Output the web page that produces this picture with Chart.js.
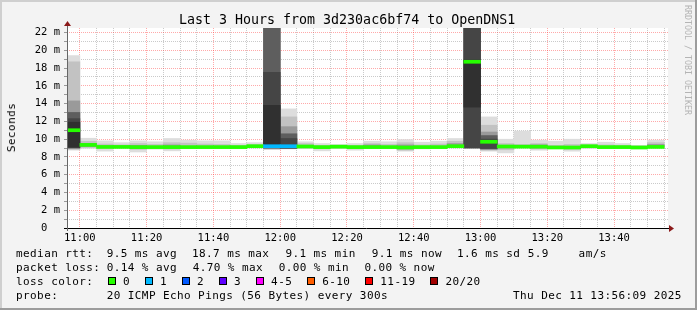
<!DOCTYPE html>
<html>
<head>
<meta charset="utf-8">
<script src="https://cdn.jsdelivr.net/npm/chart.js@4.4.1/dist/chart.umd.min.js"></script>
<style>
html, body { margin: 0; padding: 0; background: #f3f3f3; }
#wrap { position: relative; width: 697px; height: 310px; overflow: hidden;
        font-family: 'DejaVu Sans Mono', monospace; color: #000; }
canvas { position: absolute; left: 0; top: 0; }
.t { position: absolute; white-space: pre; line-height: 1; }
.lg { font-size: 11px; letter-spacing: 0.41px; }
.box { position: absolute; width: 8px; height: 8px; box-sizing: border-box; border: 1px solid #000; }
</style>
</head>
<body>
<div id="wrap">
  <canvas id="chart" width="697" height="310"></canvas>
  <div id="texts"></div>
</div>
<script>
// 5-minute slots, labelled by slot start
const slots = ['10:55','11:00','11:05','11:10','11:15','11:20','11:25','11:30','11:35','11:40','11:45','11:50',
               '11:55','12:00','12:05','12:10','12:15','12:20','12:25','12:30','12:35','12:40','12:45','12:50',
               '12:55','13:00','13:05','13:10','13:15','13:20','13:25','13:30','13:35','13:40','13:45','13:50'];

// median rtt (ms) per slot
const medianMs = [11.0, 9.35, 9.12, 9.12, 9.1, 9.1, 9.1, 9.1, 9.1, 9.1, 9.1, 9.2,
                  9.2, 9.2, 9.17, 9.1, 9.15, 9.1, 9.1, 9.1, 9.06, 9.1, 9.1, 9.2,
                  18.7, 9.7, 9.17, 9.15, 9.15, 9.06, 9.06, 9.2, 9.1, 9.1, 9.06, 9.12];

// lost pings per slot (of 20)
const lostPings = [0,0,0,0,0,0,0,0,0,0,0,0, 1,1,0,0,0,0,0,0,0,0,0,0, 0,0,0,0,0,0,0,0,0,0,0,0];

// smoke bands, outer (light) to inner (dark), [low, high] ms
const smoke1 = [[8.75,19.4],[8.95,10.1],[8.65,9.8],[9.0,9.6],[8.55,9.8],[8.87,9.7],[8.68,10.07],[8.94,9.88],[9.0,9.8],[9.02,9.8],[9.02,9.5],[9.0,9.6],
                [8.8,40],[8.9,13.4],[8.94,9.7],[8.68,9.5],[8.94,9.4],[8.75,9.5],[9.0,9.76],[9.0,9.7],[8.64,9.95],[8.9,9.65],[9.0,9.76],[9.0,10.07],
                [9.0,40],[8.64,12.5],[8.45,9.99],[9.0,10.9],[8.75,9.88],[8.95,9.76],[8.64,9.99],[8.95,9.5],[9.0,9.65],[9.0,9.5],[8.9,9.3],[9.0,9.88]];
const smoke2 = [[8.85,18.7],[9.05,9.75],[8.95,9.45],[9.05,9.35],[8.85,9.5],[9.0,9.4],[8.9,9.6],[9.0,9.55],[9.05,9.45],[9.05,9.4],[9.05,9.3],[9.05,9.4],
                [8.9,40],[8.95,12.5],[9.0,9.5],[8.95,9.3],[9.0,9.3],[8.95,9.3],[9.05,9.5],[9.05,9.4],[8.75,9.6],[9.0,9.35],[9.05,9.45],[9.05,9.75],
                [9.0,40],[8.75,11.56],[8.8,9.5],[9.05,9.4],[8.9,9.5],[9.0,9.3],[8.85,9.4],[9.05,9.35],[9.05,9.35],[9.05,9.3],[8.95,9.15],[9.05,9.6]];
const smoke3 = [[8.95,14.3],[9.15,9.5],null,null,[8.95,9.3],null,[9.0,9.35],null,null,null,null,null,
                [8.95,40],[9.0,11.4],[9.05,9.3],null,null,null,[9.05,9.35],null,[8.9,9.35],null,null,[9.1,9.5],
                [9.0,40],[8.85,10.8],[9.0,9.3],null,[9.0,9.35],null,null,null,null,null,null,[9.1,9.4]];
const smoke4 = [[9.0,13.0],null,null,null,null,null,null,null,null,null,null,null,
                [9.0,40],[9.05,10.6],null,null,null,null,null,null,null,null,null,null,
                [9.0,40],[8.9,10.4],null,null,null,null,null,null,null,null,null,null];
const smoke5 = [[9.05,12.3],null,null,null,null,null,null,null,null,null,null,null,
                [9.0,17.5],[8.95,10.07],null,null,null,null,null,null,null,null,null,null,
                [9.0,40],[8.95,10.0],null,null,null,null,null,null,null,null,null,null];
const smoke6 = [[9.1,11.9],null,null,null,null,null,null,null,null,null,null,null,
                [9.05,13.8],null,null,null,null,null,null,null,null,null,null,null,
                [13.6,18.9],null,null,null,null,null,null,null,null,null,null,null];
const smokeGreys = ['#dddddd','#c2c2c2','#9a9a9a','#5e5e5e','#454545','#303030'];

const lossLabels = ['0','1','2','3','4-5','6-10','11-19','20/20'];
const lossColors = ['#26ff00','#00b8ff','#0059ff','#5e00ff','#ff00ff','#ff5e00','#ff0000','#a10000'];
const lossLimits = [0, 1, 2, 3, 5, 10, 19, 20];

const xTicks = [0,5,10,15,20,25,30,35,40,45,50,55,60,65,70,75,80,85,90,95,100,105,110,115,
                120,125,130,135,140,145,150,155,160,165,170,175];
const yTicks = [0,1,2,3,4,5,6,7,8,9,10,11,12,13,14,15,16,17,18,19,20,21,22];

// minutes relative to 11:00
const toMin = s => { const [h, m] = s.split(':').map(Number); return (h - 11) * 60 + m; };
const fmtMin = v => { const t = 660 + v; return Math.floor(t / 60) + ':' + String(t % 60).padStart(2, '0'); };
const mids = slots.map(s => toMin(s) + 2.5);

function bandData(arr) {
    const out = [];
    arr.forEach((r, i) => { if (r) out.push({ x: mids[i], y: r }); });
    return out;
}
const lossColor = n => lossColors[lossLimits.findIndex(l => n <= l)];

const datasets = [{
    data: medianMs.map((m, i) => ({ x: mids[i], y: [m - 0.17, m + 0.17] })),
    backgroundColor: lostPings.map(lossColor),
}];
[smoke6, smoke5, smoke4, smoke3, smoke2, smoke1].forEach((b, k) => {
    datasets.push({ data: bandData(b), backgroundColor: smokeGreys[5 - k] });
});
datasets.forEach(d => Object.assign(d, {
    grouped: false, barPercentage: 1, categoryPercentage: 1, borderWidth: 0, borderSkipped: false,
}));

const MONO = 'DejaVu Sans Mono';
const RED = 'rgba(255,40,40,0.4)', GREY = 'rgba(150,150,150,0.5)';
const tickVal = c => (c.tick ? c.tick.value : 1);

const frame = {
    id: 'frame',
    beforeDraw(chart) {
        const { ctx, chartArea: a } = chart;
        ctx.save();
        ctx.fillStyle = '#f3f3f3';
        ctx.fillRect(0, 0, 697, 310);
        ctx.fillStyle = '#cfcfcf';
        ctx.fillRect(0, 0, 697, 2);
        ctx.fillRect(0, 0, 2, 310);
        ctx.fillStyle = '#9c9c9c';
        ctx.fillRect(0, 308, 697, 2);
        ctx.fillRect(695, 0, 2, 310);
        ctx.fillStyle = '#ffffff';
        ctx.fillRect(a.left, a.top, a.right - a.left, a.bottom - a.top);
        ctx.restore();
    },
    afterDraw(chart) {
        const { ctx, chartArea: a } = chart;
        ctx.save();
        ctx.lineWidth = 1;
        ctx.strokeStyle = '#000';
        ctx.beginPath();
        ctx.moveTo(64, a.bottom + 0.5); ctx.lineTo(669, a.bottom + 0.5);
        ctx.stroke();
        ctx.strokeStyle = '#666';
        ctx.beginPath();
        ctx.moveTo(a.left + 0.5, a.bottom + 3); ctx.lineTo(a.left + 0.5, 26);
        ctx.stroke();
        ctx.fillStyle = '#8b1a1a';
        ctx.beginPath();
        ctx.moveTo(669, a.bottom - 3); ctx.lineTo(674, a.bottom + 0.5); ctx.lineTo(669, a.bottom + 4);
        ctx.fill();
        ctx.beginPath();
        ctx.moveTo(a.left - 3, 26); ctx.lineTo(a.left + 0.5, 21); ctx.lineTo(a.left + 4, 26);
        ctx.fill();
        ctx.restore();
    }
};

new Chart(document.getElementById('chart'), {
    type: 'bar',
    data: { datasets },
    options: {
        responsive: false,
        animation: false,
        events: [],
        devicePixelRatio: 1,
        layout: { padding: { top: 28, right: 29, bottom: 62, left: 0 } },
        plugins: { legend: { display: false }, tooltip: { enabled: false } },
        scales: {
            x: {
                type: 'linear',
                offset: false,
                min: -3.85,
                max: 176.15,
                afterBuildTicks: s => { s.ticks = xTicks.map(v => ({ value: v })); },
                afterFit: s => { s.height = 20; s.paddingLeft = 0; s.paddingRight = 0; },
                ticks: {
                    autoSkip: false, maxRotation: 0, padding: 4, color: '#000',
                    font: { family: MONO, size: 10.5 },
                    callback: v => v % 20 === 0 ? fmtMin(v) : '',
                },
                grid: {
                    offset: false,
                    drawTicks: false,
                    color: c => tickVal(c) % 20 === 0 ? RED : GREY,
                },
                border: { display: false, dash: [1, 1] },
            },
            y: {
                min: 0,
                max: 22.5,
                afterBuildTicks: s => { s.ticks = yTicks.map(v => ({ value: v })); },
                afterFit: s => { s.width = 67; s.paddingTop = 0; s.paddingBottom = 0; },
                ticks: {
                    autoSkip: false, padding: 4, color: '#000',
                    font: { family: MONO, size: 10.5 },
                    callback: v => v === 0 ? '0  ' : (v % 2 === 0 ? v + ' m' : ''),
                },
                grid: {
                    tickLength: 3,
                    tickColor: '#999',
                    color: c => tickVal(c) % 2 === 0 ? RED : GREY,
                },
                border: { display: false, dash: [1, 1] },
            }
        }
    },
    plugins: [frame]
});

const texts = document.getElementById('texts');
function put(str, x, base, size, cls, style) {
    const el = document.createElement('div');
    el.className = 't ' + (cls || '');
    el.textContent = str;
    el.style.left = x + 'px';
    el.style.top = (base - 0.846 * size) + 'px';
    el.style.fontSize = size + 'px';
    if (style) Object.assign(el.style, style);
    texts.appendChild(el);
    return el;
}

put('Last 3 Hours from 3d230ac6bf74 to OpenDNS1', 179, 24, 13.3);

// y-axis title, reading bottom to top
put('Seconds', 6, 0, 11, 'lg', { writingMode: 'vertical-rl', transform: 'rotate(180deg)', top: '103px' });

put('RRDTOOL / TOBI OETIKER', 684, 0, 8.3, '', { writingMode: 'vertical-rl', color: '#b4b4b4', top: '5px' });

const L1 = 257, L2 = 271, L3 = 285, L4 = 299;
put('median rtt:', 16, L1, 11, 'lg');
put('9.5 ms avg', 106.7, L1, 11, 'lg');
put('18.7 ms max', 192, L1, 11, 'lg');
put('9.1 ms min', 285.4, L1, 11, 'lg');
put('9.1 ms now', 371.7, L1, 11, 'lg');
put('1.6 ms sd', 457, L1, 11, 'lg');
put('5.9', 527.7, L1, 11, 'lg');
put('am/s', 578.6, L1, 11, 'lg');

put('packet loss:', 16, L2, 11, 'lg');
put('0.14 % avg', 106.7, L2, 11, 'lg');
put('4.70 % max', 192.7, L2, 11, 'lg');
put('0.00 % min', 278.7, L2, 11, 'lg');
put('0.00 % now', 364.4, L2, 11, 'lg');

put('loss color:', 16, L3, 11, 'lg');
let tx = 123;
lossLabels.forEach((lab, i) => {
    const b = document.createElement('div');
    b.className = 'box';
    b.style.left = (tx - 15) + 'px';
    b.style.top = '277px';
    b.style.background = lossColors[i];
    texts.appendChild(b);
    put(lab, tx, L3, 11, 'lg');
    tx += 30 + 7.03 * lab.length;
});

put('probe:', 16, L4, 11, 'lg');
put('20 ICMP Echo Pings (56 Bytes) every 300s', 106.7, L4, 11, 'lg');
put('Thu Dec 11 13:56:09 2025', 513, L4, 11, 'lg');
</script>
</body>
</html>
